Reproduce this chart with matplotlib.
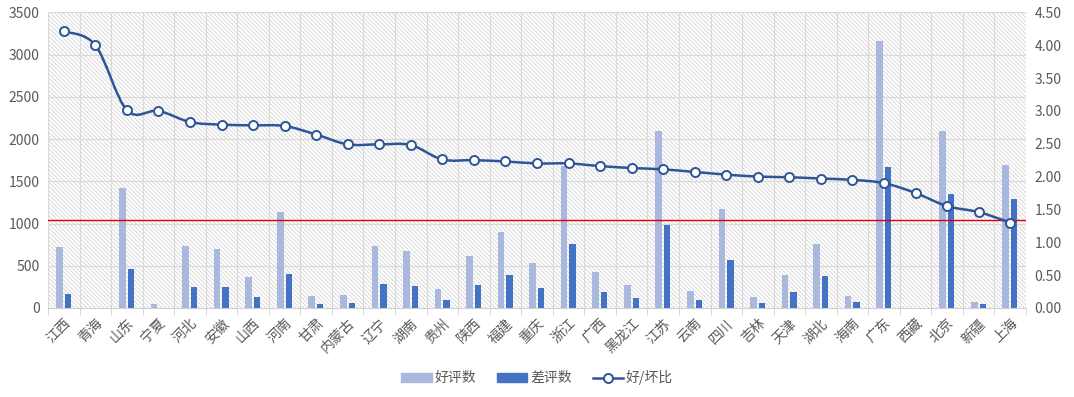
import matplotlib.pyplot as plt
import numpy as np
from matplotlib.path import Path
from matplotlib.patches import PathPatch, Rectangle
from matplotlib.lines import Line2D

plt.rcParams['font.family'] = ['Noto Sans CJK SC', 'DejaVu Sans']
plt.rcParams['hatch.linewidth'] = 0.6
plt.rcParams['hatch.color'] = '#d4d4d4'

provinces = ['江西', '青海', '山东', '宁夏', '河北', '安徽', '山西', '河南', '甘肃', '内蒙古',
             '辽宁', '湖南', '贵州', '陕西', '福建', '重庆', '浙江', '广西', '黑龙江', '江苏',
             '云南', '四川', '吉林', '天津', '湖北', '海南', '广东', '西藏', '北京', '新疆', '上海']
good = [725, 0, 1422, 43, 733, 701, 370, 1138, 146, 157,
        733, 677, 228, 618, 902, 536, 1682, 429, 276, 2096,
        205, 1170, 130, 390, 756, 142, 3156, 0, 2092, 71, 1694]
bad = [169, 0, 465, 0, 252, 252, 134, 405, 51, 63,
       284, 264, 98, 276, 394, 240, 760, 193, 122, 985,
       98, 567, 59, 189, 378, 71, 1663, 0, 1347, 47, 1288]
ratio = [4.21, 4.00, 3.01, 3.00, 2.83, 2.79, 2.78, 2.77, 2.64, 2.49,
         2.49, 2.48, 2.26, 2.25, 2.23, 2.20, 2.20, 2.16, 2.13, 2.11,
         2.07, 2.03, 2.00, 1.99, 1.97, 1.95, 1.90, 1.75, 1.55, 1.46, 1.30]
ref_level = 1040

c_good = '#a9b8dc'
c_bad = '#4472c4'
c_line = '#2f5597'
c_text = '#595959'

fig = plt.figure(figsize=(10.74, 3.97), dpi=100)
ax = fig.add_axes([0.0447, 0.2242, 0.9106, 0.7448])
ax2 = ax.twinx()

x = np.arange(len(provinces))

# hatched background
ax.add_patch(Rectangle((0, 0), 1, 1, transform=ax.transAxes, facecolor='white',
                       hatch='\\' * 8, edgecolor='#d4d4d4', linewidth=0, zorder=0))

ax.bar(x - 0.14, good, width=0.21, color=c_good, zorder=3)
ax.bar(x + 0.13, bad, width=0.2, color=c_bad, zorder=3)
ax.axhline(ref_level, color='#e00000', linewidth=1, zorder=4)

ax.set_xlim(-0.5, len(provinces) - 0.5)
ax.set_ylim(0, 3500)
ax.set_yticks(np.arange(0, 3501, 500))
ax.set_xticks(x)
ax.set_xticklabels(provinces, rotation=45, ha='right', rotation_mode='anchor')
ax.set_xticks(np.arange(-0.5, len(provinces), 1), minor=True)
ax.tick_params(axis='x', which='major', length=0, pad=6, labelsize=10, labelcolor=c_text)
ax.tick_params(axis='x', which='minor', length=5, color='#d0d0d0', direction='out')
ax.tick_params(axis='y', length=0, labelsize=10, labelcolor=c_text, pad=6)
ax.grid(True, which='minor', axis='x', color='#d9d9d9', linewidth=0.8, zorder=1)
ax.grid(True, which='major', axis='y', color='#d9d9d9', linewidth=0.8, zorder=1)
ax.grid(False, which='major', axis='x')
ax.set_axisbelow(True)
for s in ['left', 'right', 'top']:
    ax.spines[s].set_visible(False)
ax.spines['bottom'].set_color('#d0d0d0')

# smoothed ratio line (bezier through the data points)
pts = np.column_stack([x, ratio]).astype(float)
verts = [pts[0]]
codes = [Path.MOVETO]
for i in range(len(pts) - 1):
    p0 = pts[i - 1] if i > 0 else pts[i]
    p3 = pts[i + 2] if i + 2 < len(pts) else pts[i + 1]
    c1 = pts[i] + (pts[i + 1] - p0) / 6
    c2 = pts[i + 1] - (p3 - pts[i]) / 6
    verts += [c1, c2, pts[i + 1]]
    codes += [Path.CURVE4] * 3
ax2.add_patch(PathPatch(Path(verts, codes), facecolor='none', edgecolor=c_line,
                        linewidth=1.8, zorder=5))
ax2.plot(x, ratio, linestyle='none', marker='o', markersize=6.5, markerfacecolor='white',
         markeredgecolor=c_line, markeredgewidth=1.4, zorder=6)
ax2.set_ylim(0, 4.5)
ax2.set_yticks(np.arange(0, 4.51, 0.5))
ax2.set_yticklabels([f'{v:.2f}' for v in np.arange(0, 4.51, 0.5)])
ax2.tick_params(axis='y', length=0, labelsize=10, labelcolor=c_text, pad=6)
for s in ['left', 'right', 'top', 'bottom']:
    ax2.spines[s].set_visible(False)

handles = [Rectangle((0, 0), 1, 1, color=c_good),
           Rectangle((0, 0), 1, 1, color=c_bad),
           Line2D([], [], color=c_line, linewidth=1.8, marker='o', markersize=6.5,
                  markerfacecolor='white', markeredgecolor=c_line, markeredgewidth=1.4)]
fig.legend(handles, ['好评数', '差评数', '好/坏比'], loc='center', bbox_to_anchor=(0.5, 0.048),
           ncol=3, frameon=False, fontsize=10, labelcolor=c_text, handlelength=2.2,
           handleheight=0.6, columnspacing=1.5, handletextpad=0.2)

fig.savefig('out.png', dpi=100)
